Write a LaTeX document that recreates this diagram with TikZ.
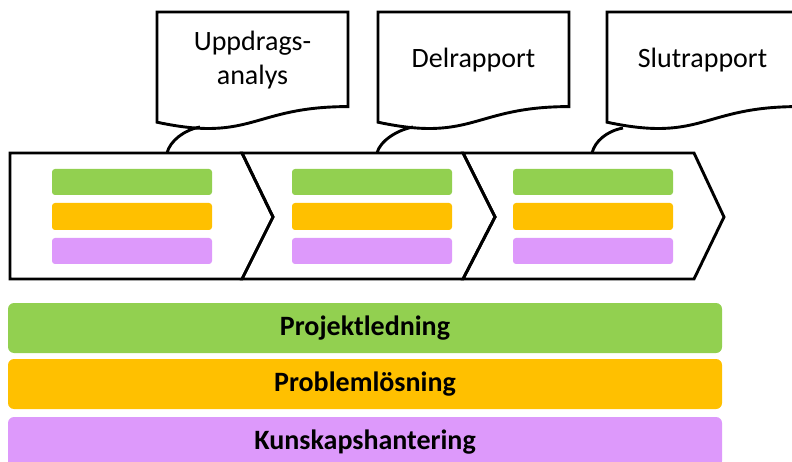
\documentclass[tikz,border=0pt]{standalone}
\usepackage{fontspec}
\setmainfont{Carlito}
\definecolor{plgreen}{HTML}{92D050}
\definecolor{plorange}{HTML}{FFC000}
\definecolor{plpurple}{HTML}{DD99FB}

\newcommand{\drawDokument}[3]{
    % #1 namn, #2 vänsterkant, #3 text
    \draw[doc line] (#2,12) -- ({#2+191},12) -- ({#2+191},106.6)
        .. controls ({#2+95.5},106.6) and ({#2+95.5},142.7) .. (#2,122.2) -- cycle;
    \node[doc text] (#1) at ({#2+95.5},60) {#3};
}

\begin{document}
\begin{tikzpicture}[x=1pt, y=-1pt,
    doc line/.style={line width=2.9pt, black, fill=white, line join=miter},
    doc text/.style={font=\fontsize{28}{34}\selectfont, align=center, inner sep=0pt},
    fas line/.style={line width=2.9pt, black, line join=miter},
    link/.style={line width=2.9pt, black},
    small bar/.style={rounded corners=3pt},
    big bar/.style={rounded corners=6pt, minimum width=714, minimum height=50, inner sep=0pt,
        font=\fontsize{28}{34}\selectfont\bfseries}
]
\useasboundingbox (0,0) rectangle (792,462);
\clip (0,0) rectangle (792,462);

% 1. Faserna (pilformer)
\draw[fas line] (10,153) -- (242,153) -- (273,217) -- (242,279) -- (10,279) -- cycle;
\draw[fas line] (242,153) -- (463,153) -- (495,217) -- (463,279) -- (242,279) -- (273,217) -- cycle;
\draw[fas line] (463,153) -- (694,153) -- (724,217) -- (694,279) -- (463,279) -- (495,217) -- cycle;

% Små staplar i varje fas
\foreach \x in {52,292,513} {
    \fill[small bar, plgreen]  (\x,169) rectangle ++(160,26);
    \fill[small bar, plorange] (\x,203) rectangle ++(160,27);
    \fill[small bar, plpurple] (\x,238) rectangle ++(160,26);
}

% 2. Dokumenten
\drawDokument{uppdrag}{157}{Uppdrags-\\analys}
\drawDokument{delrapport}{378}{Delrapport}
\drawDokument{slutrapport}{607}{Slutrapport}

% 3. Kopplingar mellan dokument och faser
\coordinate (uppdrag fot) at (200,127);     \coordinate (fas1 topp) at (167,153);
\coordinate (delrapport fot) at (413,127);  \coordinate (fas2 topp) at (377,153);
\coordinate (slutrapport fot) at (623,128); \coordinate (fas3 topp) at (592,153);
\draw[link] (uppdrag fot) .. controls (184,130) and (170,141) .. (fas1 topp);
\draw[link] (delrapport fot) .. controls (397,130) and (380,141) .. (fas2 topp);
\draw[link] (slutrapport fot) .. controls (607,131) and (595,141) .. (fas3 topp);

% 4. Genomgående processer
\node[big bar, fill=plgreen]  (projekt) at (365,328) {Projektledning};
\node[big bar, fill=plorange] (problem) at (365,384) {Problemlösning};
\node[big bar, fill=plpurple] (kunskap) at (365,442) {Kunskapshantering};

\end{tikzpicture}
\end{document}
